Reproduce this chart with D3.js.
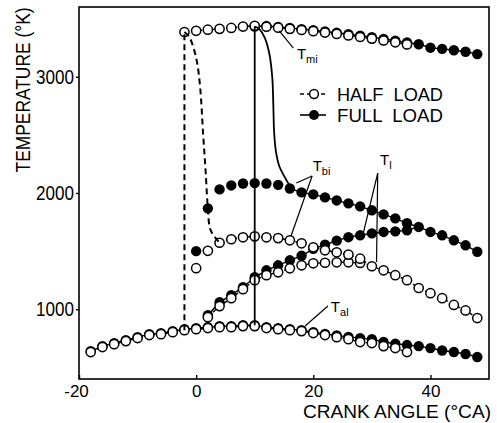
<!DOCTYPE html>
<html><head><meta charset="utf-8">
<script src="https://cdn.jsdelivr.net/npm/d3@7"></script>
<style>
body{margin:0;background:#fff;}
svg{display:block;font-family:"Liberation Sans",Arial,sans-serif;}
.pre{white-space:pre;}
</style></head>
<body><svg id="c" width="497" height="423"></svg>
<script>
// ---- data (crank angle °CA, temperature K) ----
const xTicks = [-20, 0, 20, 40];
const yTicks = [1000, 2000, 3000];

const halfTmiX = d3.range(-2, 37, 2);
const halfTmi = [3385,3395,3405,3412,3420,3432,3438,3430,3422,3412,3402,3392,3380,3368,3355,3342,3328,3312,3296,3278];

const fullTmiX = d3.range(10, 49, 2);
const fullTmi = [3432,3436,3428,3420,3410,3400,3390,3378,3366,3353,3340,3326,3310,3295,3280,3250,3240,3228,3215,3195];

const halfTbiX = d3.range(0, 29, 2);
const halfTbi = [1353,1503,1572,1602,1619,1627,1619,1612,1593,1567,1533,1507,1490,1470,1435];

const halfTlX = d3.range(2, 29, 2);
const halfTl = [932,1027,1095,1173,1250,1293,1318,1352,1378,1395,1400,1404,1404,1398];

const halfMergedX = d3.range(30, 49, 2);
const halfMerged = [1370,1335,1293,1250,1183,1138,1095,1037,990,924];

const fullTbiX = d3.range(0, 49, 2);
const fullTbi = [1500,1868,2031,2065,2082,2085,2082,2070,2039,2005,1988,1962,1936,1911,1885,1851,1816,1782,1740,1708,1665,1636,1593,1550,1495];

const fullTlX = d3.range(2, 37, 2);
const fullTl = [949,1061,1121,1190,1275,1335,1378,1421,1460,1520,1555,1590,1620,1636,1653,1665,1670,1680];

const halfTalX = d3.range(-18, 37, 2);
const halfTal = [632,675,700,726,752,778,786,803,820,829,838,846,846,855,855,838,829,820,812,795,778,760,743,718,709,683,666,632];

const fullTalX = d3.range(-18, 49, 2);
const fullTal = [640,683,708,734,760,786,794,811,828,837,846,854,854,863,863,846,837,828,820,803,788,774,762,752,743,718,703,692,683,666,645,632,615,589];

// combustion-start curves (drawn lines)
const halfCurveX = [-2,-1.2,-0.4,0.2,0.7,1.2,1.6,2,2.4,3.2,4];
const halfCurveT = [3385,3345,3240,3110,2900,2500,2200,1868,1690,1620,1572];
const fullCurveX = [10,10.8,11.7,12.5,13,13.2,13.3,13.6,14.2,15.2,16];
const fullCurveT = [3432,3410,3337,3198,2992,2709,2537,2365,2230,2130,2060];

// ---- layout ----
const svg = d3.select("#c");
const m = {l:79, r:489, t:7, b:379};
const x = d3.scaleLinear().domain([-20, 50]).range([m.l, m.r]);
const y = d3.scaleLinear().domain([400, 3600]).range([m.b, m.t]);
const zip = (xs, ys) => xs.map((v, i) => [v, ys[i]]);
const line = d3.line().x(d => x(d[0])).y(d => y(d[1]));
const smooth = d3.line().x(d => x(d[0])).y(d => y(d[1])).curve(d3.curveCatmullRom.alpha(0.5));

// frame
svg.append("rect").attr("x", m.l).attr("y", m.t).attr("width", m.r - m.l).attr("height", m.b - m.t)
  .attr("fill", "none").attr("stroke", "#000").attr("stroke-width", 1.6);

// axes
const xAx = svg.append("g").attr("transform", `translate(0,${m.b})`)
  .call(d3.axisBottom(x).tickValues(xTicks).tickSize(-4).tickPadding(6).tickFormat(d3.format("d")));
xAx.select(".domain").remove();
xAx.selectAll("text").attr("font-size", 17).attr("fill", "#000").attr("font-family", "Liberation Sans, Arial, sans-serif")
  .text(d => d < 0 ? "-" + Math.abs(d) : d).attr("dx", d => d < 0 ? -3 : 0);
xAx.selectAll("line").attr("stroke-width", 1.4);

const yAx = svg.append("g").attr("transform", `translate(${m.l},0)`)
  .call(d3.axisLeft(y).tickValues(yTicks).tickSize(3).tickPadding(2).tickFormat(d3.format("d")));
yAx.select(".domain").remove();
yAx.selectAll("text").attr("font-size", 20).attr("fill", "#000").attr("font-family", "Liberation Sans, Arial, sans-serif")
  .attr("textLength", 38).attr("lengthAdjust", "spacingAndGlyphs");
yAx.selectAll("line").attr("stroke-width", 1.4);

// axis titles
svg.append("text").attr("transform", "translate(30,90) rotate(-90) scale(1,1.15)").attr("text-anchor", "middle")
  .attr("font-size", 18).attr("textLength", 165).attr("lengthAdjust", "spacingAndGlyphs").text("TEMPERATURE (°K)");
svg.append("text").attr("x", 303).attr("y", 418).attr("font-size", 19)
  .attr("textLength", 188).attr("lengthAdjust", "spacingAndGlyphs").text("CRANK ANGLE (°CA)");

const plot = svg.append("g");

// connecting lines (under markers)
const halfSeries = [zip(halfTmiX, halfTmi), zip(halfTbiX.slice(2), halfTbi.slice(2)).concat(zip(halfMergedX, halfMerged)),
  zip(halfTlX, halfTl).concat([[halfMergedX[0], halfMerged[0]]]), zip(halfTalX, halfTal)];
const fullSeries = [zip(fullTmiX, fullTmi), zip(fullTbiX.slice(8), fullTbi.slice(8)),
  zip(fullTlX, fullTl).concat([[38, fullTbi[19]]]), zip(fullTalX, fullTal)];
fullSeries.forEach(s => plot.append("path").attr("d", line(s)).attr("fill", "none").attr("stroke", "#000").attr("stroke-width", 1.4));
halfSeries.forEach(s => plot.append("path").attr("d", line(s)).attr("fill", "none").attr("stroke", "#000").attr("stroke-width", 1.4).attr("stroke-dasharray", "4,3"));

// markers
const R = 5.2;
function dots(xs, ys, filled) {
  plot.append("g").selectAll("circle").data(zip(xs, ys)).join("circle")
    .attr("cx", d => x(d[0])).attr("cy", d => y(d[1])).attr("r", filled ? R : R - 0.6)
    .attr("fill", filled ? "#000" : "#fff").attr("stroke", "#000").attr("stroke-width", filled ? 0 : 1.5);
}
dots(fullTalX, fullTal, true);
dots(fullTlX, fullTl, true);
dots(fullTbiX, fullTbi, true);
dots(fullTmiX, fullTmi, true);
dots(halfTalX, halfTal, false);
dots(halfTlX, halfTl, false);
dots(halfMergedX, halfMerged, false);
dots(halfTbiX, halfTbi, false);
dots(halfTmiX, halfTmi, false);

// ignition lines (on top)
plot.append("path").attr("d", line([[halfTmiX[0], halfTal[8]], [halfTmiX[0], halfTmi[0]]]))
  .attr("stroke", "#000").attr("stroke-width", 2).attr("stroke-dasharray", "6,4").attr("fill", "none");
plot.append("path").attr("d", smooth(zip(halfCurveX, halfCurveT)))
  .attr("stroke", "#000").attr("stroke-width", 2).attr("stroke-dasharray", "6,4").attr("fill", "none");
plot.append("path").attr("d", line([[fullTmiX[0], fullTal[14]], [fullTmiX[0], fullTmi[0]]]))
  .attr("stroke", "#000").attr("stroke-width", 1.8).attr("fill", "none");
plot.append("path").attr("d", smooth(zip(fullCurveX, fullCurveT)))
  .attr("stroke", "#000").attr("stroke-width", 1.8).attr("fill", "none");

// annotations (positions in data space)
const leaders = [
  [[16.6, 3247], [14.2, 3394]],
  [[19.8, 2146], [17.1, 2086]],
  [[19.8, 2146], [16.2, 1630]],
  [[31.0, 2170], [28.5, 1647]],
  [[31.0, 2170], [30.8, 1406]],
  [[22.5, 1028], [18.6, 856]]
];
leaders.forEach(l => plot.append("path").attr("d", line(l)).attr("stroke", "#000").attr("stroke-width", 1.2).attr("fill", "none"));

function sublabel(ax, at, main, sub) {
  const t = svg.append("text").attr("x", x(ax)).attr("y", y(at)).attr("font-size", 15);
  t.append("tspan").text(main);
  t.append("tspan").attr("dy", 4).attr("font-size", 11).text(sub);
}
sublabel(17.2, 3150, "T", "mi");
sublabel(19.9, 2185, "T", "bi");
sublabel(31.4, 2245, "T", "l");
sublabel(23.0, 980, "T", "al");

// legend
const legY = [94, 115];
const legLabels = ["HALF  LOAD", "FULL  LOAD"];
legY.forEach((ly, i) => {
  svg.append("line").attr("x1", 300).attr("x2", 326).attr("y1", ly).attr("y2", ly)
    .attr("stroke", "#000").attr("stroke-width", 1.6).attr("stroke-dasharray", i === 0 ? "4,3" : null);
  svg.append("circle").attr("cx", 314).attr("cy", ly).attr("r", i === 0 ? 4.4 : 5)
    .attr("fill", i === 0 ? "#fff" : "#000").attr("stroke", "#000").attr("stroke-width", i === 0 ? 1.5 : 0);
  svg.append("text").attr("class", "pre").attr("x", 337).attr("y", ly + 7).attr("font-size", 19)
    .attr("textLength", 106).attr("lengthAdjust", "spacingAndGlyphs").text(legLabels[i]);
});
</script></body></html>
